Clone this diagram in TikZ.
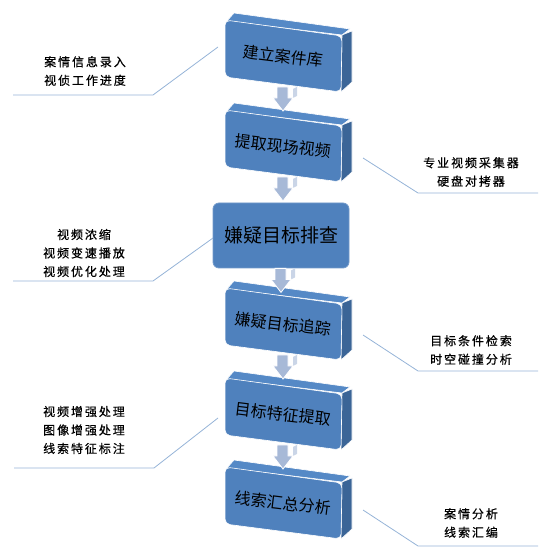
\documentclass[tikz,border=0pt]{standalone}
\usepackage{fontspec}
\newfontfamily\cjk{Noto Sans CJK SC}
\newfontfamily\cjknote[LetterSpace=16,FakeBold=0.6]{Noto Sans CJK SC}
\usetikzlibrary{positioning}
\definecolor{boxblue}{HTML}{4F81BD}
\definecolor{boxside}{HTML}{3B6597}
\definecolor{boxtop}{HTML}{5589C6}
\definecolor{arrowgray}{HTML}{A7B9D7}
\definecolor{notelinecol}{HTML}{95B3D7}
\tikzset{
  front/.style={fill=boxblue,draw=white,line width=0.6pt,rounded corners=5pt},
  sideface/.style={fill=boxside,draw=white,line width=0.6pt},
  topface/.style={fill=boxtop,draw=white,line width=0.6pt},
  boxtext/.style={font=\cjk\fontsize{16}{18}\selectfont,rotate=-7,inner sep=0pt},
  flatbox/.style={fill=boxblue,draw=boxblue!80!white,line width=0.8pt,rounded corners=6pt,
    minimum width=136pt,minimum height=65pt,font=\cjk\fontsize{19}{21}\selectfont},
  note/.style={font=\cjknote\fontsize{12}{18.5}\selectfont,align=center,text=black,inner sep=0pt},
  noteline/.style={draw=notelinecol,line width=0.8pt},
  downarrow/.style={fill=arrowgray,draw=white,line width=0.8pt}
}
% 3D box: #1 name, #2 top y of the front face, #3 text
\newcommand{\cubebox}[3]{%
  \fill[topface] (227,#2+1) -- (234,#2-7) -- (350,#2+9) -- (342,#2+15) -- cycle;%
  \fill[sideface] (342,#2+15) -- (352,#2+11) -- (352,#2+62) -- (341,#2+72) -- cycle;%
  \draw[front] (225,#2) -- (342,#2+16) -- (341,#2+72) -- (225,#2+57) -- cycle;%
  \node[boxtext] (#1) at (283,#2+36) {#3};%
  \coordinate (#1bot) at (283,#2+67);%
}
% block arrow going down from a named point
\newcommand{\downarr}[1]{%
  \begin{scope}[shift={(#1)}]
    \fill[arrowgray!60] (10,2) -- (14,0) -- (14,9) -- (10,11) -- cycle;%
    \draw[downarrow] (-6,0) -- (5,0) -- (5,11) -- (10,11) -- (0,24) -- (-10,11) -- (-6,11) -- cycle;%
  \end{scope}%
}
\begin{document}
\begin{tikzpicture}[x=1pt,y=-1pt]
  \useasboundingbox (0,0) rectangle (558,556);
  % boxes
  \cubebox{b1}{20}{建立案件库}
  \cubebox{b2}{110}{提取现场视频}
  \node[flatbox] (b3) at (281,235.5) {嫌疑目标排查};
  \cubebox{b4}{288}{嫌疑目标追踪}
  \cubebox{b5}{378}{目标特征提取}
  \cubebox{b6}{467}{线索汇总分析}
  % arrows
  \downarr{b1bot}
  \downarr{b2bot}
  \downarr{b3.south}
  \downarr{b4bot}
  \downarr{b5bot}
  % notes
  \node[note] (n1) at (85,71) {案情信息录入\\视侦工作进度};
  \node[note] (n2) at (471,172) {专业视频采集器\\硬盘对拷器};
  \node[note] (n3) at (84,253) {视频浓缩\\视频变速播放\\视频优化处理};
  \node[note] (n4) at (471,350) {目标条件检索\\时空碰撞分析};
  \node[note] (n5) at (84,430) {视频增强处理\\图像增强处理\\线索特征标注};
  \node[note] (n6) at (471,523) {案情分析\\线索汇编};
  % note lines
  \coordinate (a1) at (218,47);  \coordinate (c1) at (13,95);
  \coordinate (a2) at (363,158); \coordinate (c2) at (538,193);
  \coordinate (a3) at (213,238); \coordinate (c3) at (13,281);
  \coordinate (a4) at (363,335); \coordinate (c4) at (538,371);
  \coordinate (a5) at (218,418); \coordinate (c5) at (14,468);
  \coordinate (a6) at (363,510); \coordinate (c6) at (538,546);
  \draw[noteline] (a1) -- (153,95) -- (c1);
  \draw[noteline] (a2) -- (418,193) -- (c2);
  \draw[noteline] (a3) -- (153,281) -- (c3);
  \draw[noteline] (a4) -- (418,371) -- (c4);
  \draw[noteline] (a5) -- (154,468) -- (c5);
  \draw[noteline] (a6) -- (418,546) -- (c6);
\end{tikzpicture}
\end{document}
